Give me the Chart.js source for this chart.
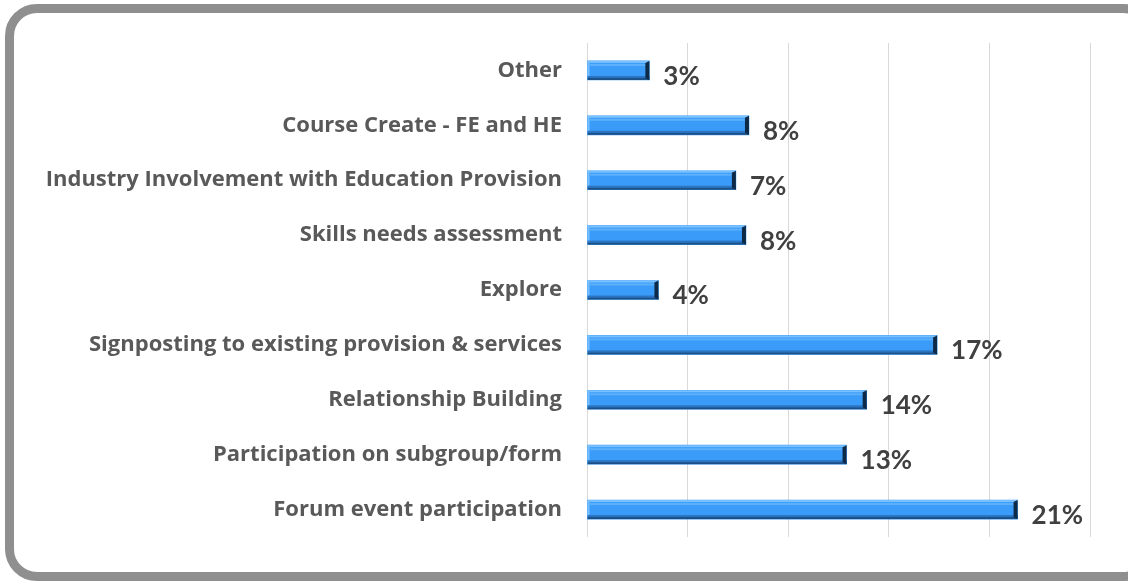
<!DOCTYPE html>
<html>
<head>
<meta charset="utf-8">
<script src="https://cdn.jsdelivr.net/npm/chart.js@4.4.0/dist/chart.umd.min.js"></script>
<style>
  html, body { margin: 0; padding: 0; background: #fff; overflow: hidden; }
  #wrap { position: relative; width: 1128px; height: 583px; overflow: hidden; }
  #frame {
    position: absolute; left: 5px; top: 4px; width: 1150px; height: 577px;
    box-sizing: border-box; border: 9px solid #8f8f8f; border-radius: 32px;
  }
  #chart { position: absolute; left: 0; top: 0; }
</style>
</head>
<body>
<div id="wrap">
  <div id="frame"></div>
  <canvas id="chart" width="1128" height="583"></canvas>
</div>
<script>
// categories, top to bottom
const categories = [
  'Other',
  'Course Create - FE and HE',
  'Industry Involvement with Education Provision',
  'Skills needs assessment',
  'Explore',
  'Signposting to existing provision & services',
  'Relationship Building',
  'Participation on subgroup/form',
  'Forum event participation'
];
// share of responses (fraction)
const shares = [0.031, 0.0805, 0.074, 0.079, 0.0355, 0.174, 0.139, 0.129, 0.214];
// axis range, no tick labels shown
const axisMax = 0.25;
const axisStep = 0.05;

// bevel look for the bars: light top edge, dark bottom edge, dark end cap
const bevelPlugin = {
  id: 'bevel',
  afterDatasetsDraw(chart) {
    const ctx = chart.ctx;
    chart.getDatasetMeta(0).data.forEach(bar => {
      const h = bar.height;
      const top = bar.y - h / 2;
      const left = Math.min(bar.base, bar.x);
      const w = Math.abs(bar.x - bar.base);
      ctx.save();
      ctx.fillStyle = '#79c0ff';
      ctx.fillRect(left, top, w, 2);
      ctx.fillRect(left, top, 2, h);
      ctx.fillStyle = '#5db0fb';
      ctx.fillRect(left + 2, top + 3, w - 6, 2);
      ctx.fillStyle = '#2a74c2';
      ctx.fillRect(left, top + h - 4, w, 2);
      ctx.fillStyle = '#1b4f86';
      ctx.fillRect(left, top + h - 2, w, 2);
      ctx.fillStyle = '#0e2a47';
      ctx.beginPath();
      ctx.moveTo(left + w - 4, top + 2);
      ctx.lineTo(left + w, top);
      ctx.lineTo(left + w, top + h);
      ctx.lineTo(left + w - 4, top + h - 2);
      ctx.closePath();
      ctx.fill();
      ctx.restore();
    });
  }
};

// percentage labels at the bar ends
const valueLabelPlugin = {
  id: 'valueLabels',
  afterDatasetsDraw(chart) {
    const ctx = chart.ctx;
    const values = chart.data.datasets[0].data;
    ctx.save();
    ctx.font = 'bold 26px Lato';
    ctx.fillStyle = '#404040';
    ctx.textAlign = 'left';
    ctx.textBaseline = 'middle';
    chart.getDatasetMeta(0).data.forEach((bar, i) => {
      const txt = Math.round(values[i] * 100) + '%';
      ctx.fillText(txt, bar.x + 14, bar.y + 6);
    });
    ctx.restore();
  }
};

new Chart(document.getElementById('chart'), {
  type: 'bar',
  data: {
    labels: categories,
    datasets: [{
      data: shares,
      backgroundColor: '#3a9cf8',
      borderWidth: 0,
      barThickness: 19
    }]
  },
  options: {
    indexAxis: 'y',
    responsive: false,
    animation: false,
    layout: { padding: { top: 43, right: 38, bottom: 46, left: 0 } },
    plugins: { legend: { display: false }, tooltip: { enabled: false } },
    scales: {
      x: {
        min: 0,
        max: axisMax,
        ticks: { display: false, stepSize: axisStep },
        grid: { color: '#d9d9d9', lineWidth: 1, drawTicks: false },
        border: { display: false }
      },
      y: {
        grid: { display: false },
        border: { display: false },
        ticks: {
          color: '#595959',
          font: { family: 'Open Sans', weight: 'bold', size: 22 },
          padding: 17
        },
        afterFit(scale) { scale.width = 587; }
      }
    }
  },
  plugins: [bevelPlugin, valueLabelPlugin]
});
</script>
</body>
</html>
